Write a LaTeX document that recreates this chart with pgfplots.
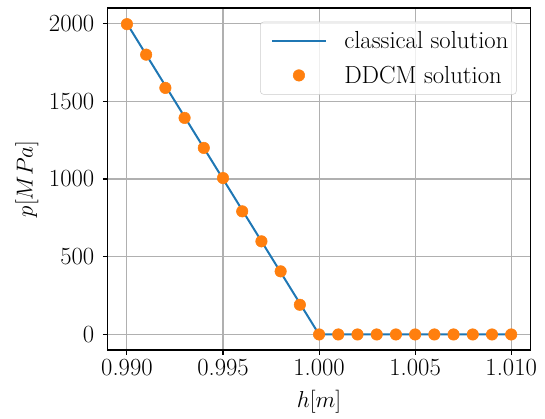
\documentclass[border=0pt]{standalone}
\usepackage{pgfplots}
\pgfplotsset{compat=1.18}
\definecolor{tabblue}{HTML}{1F77B4}
\definecolor{taborange}{HTML}{FF7F0E}
\begin{document}
\begin{tikzpicture}
\begin{axis}[
  scale only axis,
  width=317pt, height=256.5pt,
  xmin=0.989, xmax=1.011,
  ymin=-100, ymax=2100,
  xtick={0.990,0.995,1.000,1.005,1.010},
  ytick={0,500,1000,1500,2000},
  xticklabel style={/pgf/number format/.cd, fixed, fixed zerofill, precision=3, assume math mode=true},
  yticklabel style={xshift=-3pt, /pgf/number format/.cd, 1000 sep={}, assume math mode=true},
  scaled x ticks=false,
  grid=major,
  major grid style={color=black!31, line width=0.8pt},
  axis line style={line width=0.8pt},
  tick style={black, line width=0.8pt},
  tick align=outside,
  major tick length=3.6pt,
  tick pos=left,
  ticklabel style={font=\fontsize{18.5}{22}\selectfont},
  label style={font=\fontsize{18.5}{22}\selectfont},
  xlabel={$h[m]$},
  xlabel style={yshift=-4pt},
  ylabel={$p[MPa]$},
  ylabel style={yshift=1pt},
  legend style={at={(1,1)}, anchor=north east, xshift=-10.3pt, yshift=-10.3pt,
    draw=black!20, rounded corners=2.5pt, fill=white, fill opacity=0.8, text opacity=1,
    font=\fontsize{18.5}{22}\selectfont, row sep=7.5pt, inner xsep=4pt, inner ysep=5pt},
  legend cell align=left,
  legend image code/.code={\path[draw=none] (-5pt,0pt) -- (52pt,0pt);\draw[#1, draw opacity=1] (0pt,0pt) -- (40pt,0pt);},
]
\coordinate (O) at (rel axis cs:0,0);
\addplot[color=tabblue, line width=1.5pt, mark=none] coordinates {
  (0.990,2000) (1.000,0) (1.010,0)
};
\addlegendentry{classical solution}
\addplot[only marks, mark=*, mark size=4.3pt, color=taborange, mark options={draw=taborange, fill=taborange},
  legend image code/.code={\path[draw=none] (-5pt,0pt) -- (52pt,0pt);\draw[mark repeat=1, mark phase=1, fill opacity=1, draw opacity=1] plot coordinates {(20pt,0pt)};}] coordinates {
  (0.990,1996) (0.991,1800) (0.992,1586) (0.993,1393) (0.994,1200)
  (0.995,1006) (0.996,792) (0.997,599) (0.998,406) (0.999,191)
  (1.000,0) (1.001,0) (1.002,0) (1.003,0) (1.004,0) (1.005,0)
  (1.006,0) (1.007,0) (1.008,0) (1.009,0) (1.010,0)
};
\addlegendentry{DDCM solution}
\end{axis}
\pgfresetboundingbox
\path (O) ++(-80.8pt,-51pt) rectangle ++(408.75pt,313.5pt);
\end{tikzpicture}
\end{document}
